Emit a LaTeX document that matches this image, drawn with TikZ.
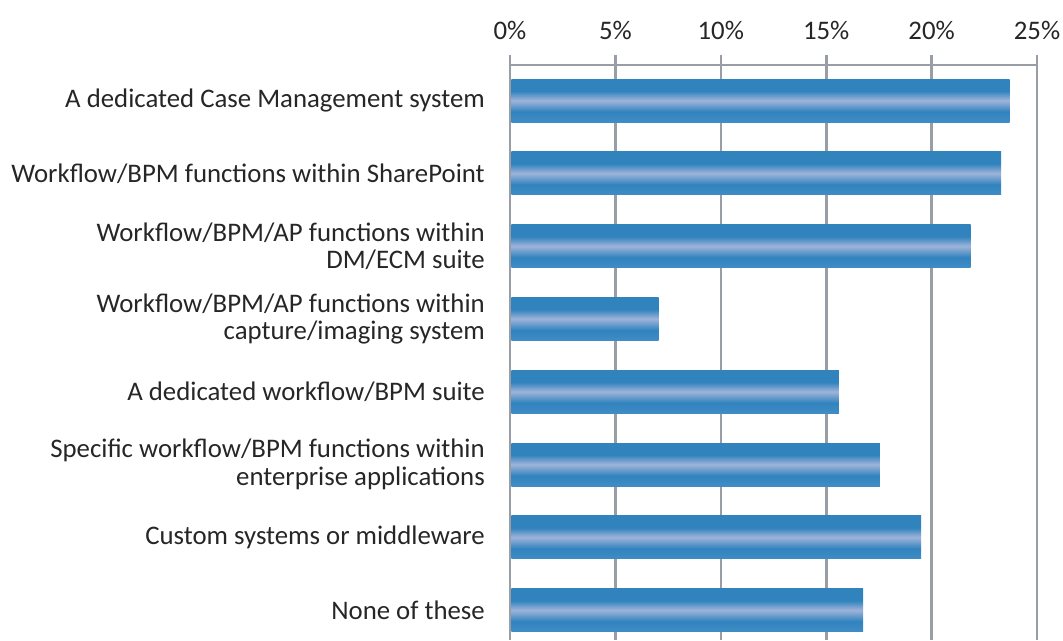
\documentclass[tikz,border=0pt]{standalone}
\usepackage{fontspec}
\setmainfont{Carlito}
\definecolor{gridgray}{RGB}{152,157,166}
\definecolor{barblue}{RGB}{49,131,190}
\definecolor{barbot}{RGB}{64,140,198}
\definecolor{barlight}{RGB}{155,178,216}
\pgfdeclareverticalshading{barshade}{100bp}{color(0bp)=(barbot); color(25bp)=(barbot); color(37bp)=(barblue); color(49.5bp)=(barlight); color(50.5bp)=(barlight); color(61bp)=(barblue); color(75bp)=(barblue); color(100bp)=(barblue)}
\tikzset{
  grid/.style={draw=gridgray, line width=2.6pt},
  ticklab/.style={font=\fontsize{26.8}{27.5}\selectfont, text=black!85, inner sep=0pt},
  lab/.style={font=\fontsize{26.8}{27.5}\selectfont, text=black!85, inner sep=0pt, anchor=east, align=right},
  bar/.style={shading=barshade, draw=none}
}
\begin{document}
\begin{tikzpicture}[x=1pt,y=-1pt]
\useasboundingbox (0,0) rectangle (1063,640);
% gridlines and tick labels
\foreach \i in {0,...,5} {
  \pgfmathsetmacro\gx{510+105.4*\i}
  \pgfmathtruncatemacro\pc{5*\i}
  \coordinate (gt\i) at (\gx,55);
  \coordinate (gb\i) at (\gx,640);
  \draw[grid] (gt\i) -- (gb\i);
  \node[ticklab] (tl\i) at (\gx,30.5) {\pc\%};
}
\draw[grid] (gt0 |- 0,65) coordinate (axl) -- (gt5 |- 0,65) coordinate (axr);
% bars
\foreach \v [count=\k] in {23.7,23.3,21.85,7.05,15.6,17.55,19.5,16.75} {
  \pgfmathsetmacro\yc{100.5+72.8*(\k-1)}
  \pgfmathsetmacro\xe{510+\v*21.08}
  \path[bar] (511.3,\yc-21.5) rectangle (\xe,\yc+21.5);
  \coordinate (b\k) at (511.3,\yc);
}
% labels
\node[lab] (l1) at (485,100.5) {A dedicated Case Management system};
\node[lab] (l2) at (485,173.3) {Workflow/BPM functions within SharePoint};
\node[lab] (l3) at (485,246.1) {Workflow/BPM/AP functions within\\DM/ECM suite\ };
\node[lab] (l4) at (485,318.9) {Workflow/BPM/AP functions within\\capture/imaging system};
\node[lab] (l5) at (485,391.7) {A dedicated workflow/BPM suite};
\node[lab] (l6) at (485,464.5) {Specific workflow/BPM functions within\\enterprise applications};
\node[lab] (l7) at (485,537.3) {Custom systems or middleware};
\node[lab] (l8) at (485,610.1) {None of these};
\end{tikzpicture}
\end{document}
